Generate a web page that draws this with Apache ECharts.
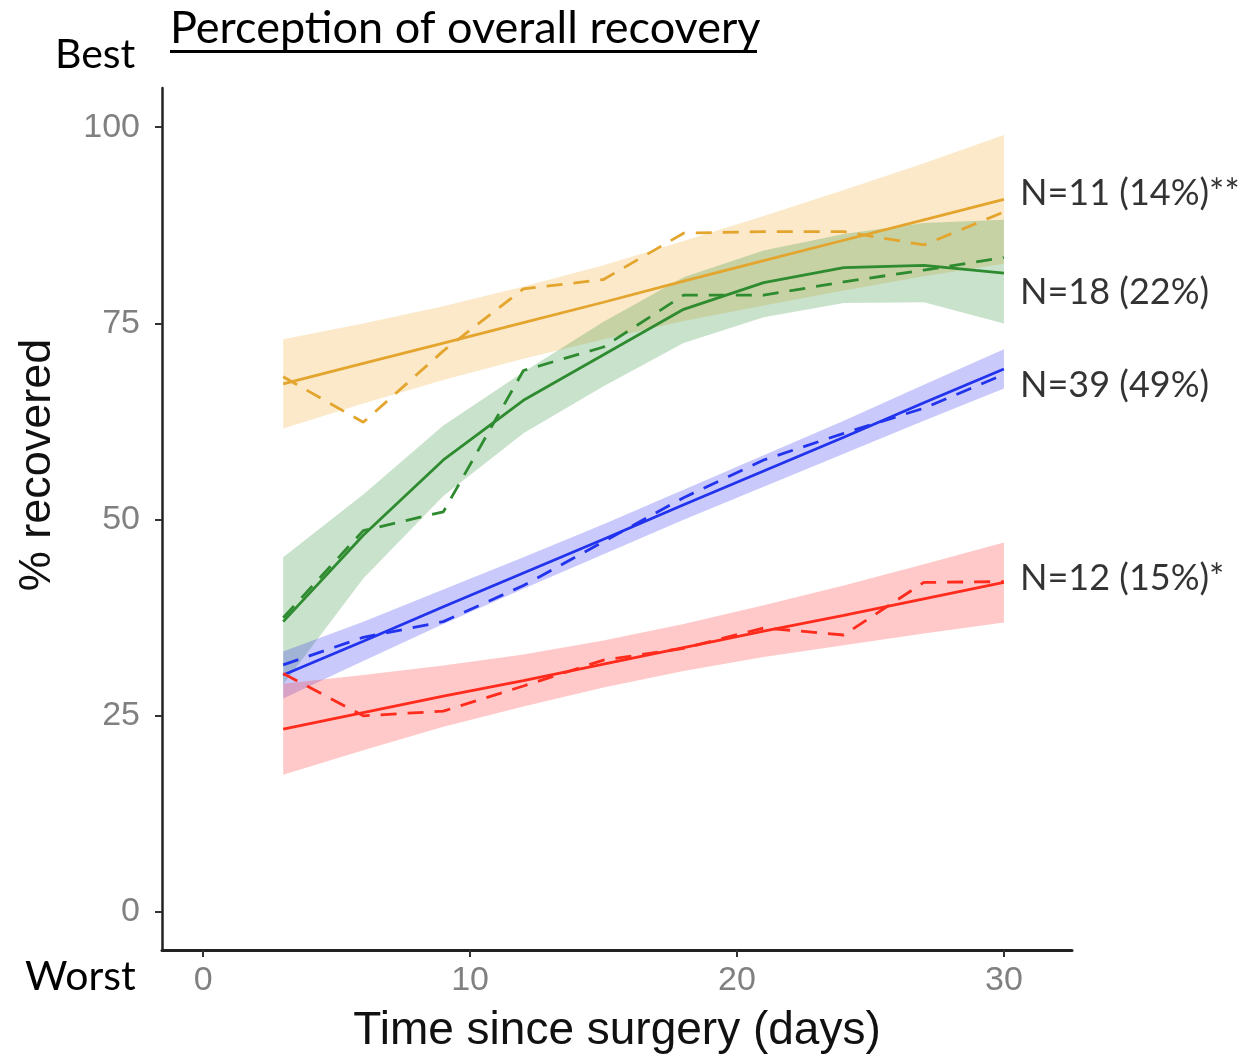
<!DOCTYPE html>
<html><head><meta charset="utf-8">
<script src="https://cdn.jsdelivr.net/npm/echarts@6/dist/echarts.min.js"></script>
<style>html,body{margin:0;padding:0;background:#fff}#c{width:1253px;height:1060px}</style>
</head><body><div id="c"></div>
<script>
// ---- data ----
const days = [3, 6, 9, 12, 15, 18, 21, 24, 27, 30];
const xTicks = [0, 10, 20, 30];
const yTicks = [0, 25, 50, 75, 100];

// N=11 (gold)
const goldFit = [67.3, 69.9, 72.5, 75.1, 77.7, 80.4, 83.0, 85.6, 88.2, 90.8];
const goldLo  = [61.6, 64.8, 67.8, 70.5, 73.0, 75.3, 77.3, 79.2, 81.0, 82.6];
const goldHi  = [73.0, 75.0, 77.2, 79.7, 82.4, 85.5, 88.7, 92.0, 95.4, 99.0];
const goldObs = [68.2, 62.4, 71.5, 79.4, 80.6, 86.5, 86.7, 86.7, 85.0, 89.2];
// N=18 (green)
const greenFit = [37.0, 48.0, 57.6, 65.2, 71.0, 76.8, 80.2, 82.1, 82.4, 81.4];
const greenLo  = [29.0, 42.5, 53.0, 61.0, 67.0, 72.5, 75.8, 77.6, 77.7, 75.0];
const greenHi  = [45.2, 53.2, 62.0, 68.8, 75.2, 80.9, 84.3, 86.4, 87.8, 88.2];
const greenObs = [37.5, 48.6, 51.0, 69.0, 72.0, 78.6, 78.6, 80.3, 81.8, 83.4];
// N=39 (blue)
const blueFit = [30.2, 34.5, 38.9, 43.2, 47.5, 51.9, 56.2, 60.5, 64.9, 69.2];
const blueLo  = [27.2, 32.0, 36.7, 41.2, 45.6, 50.0, 54.2, 58.4, 62.6, 66.7];
const blueHi  = [33.2, 37.0, 41.1, 45.2, 49.4, 53.8, 58.2, 62.6, 67.2, 71.7];
const blueObs = [31.5, 35.0, 37.0, 41.6, 47.2, 52.8, 57.6, 61.0, 64.2, 68.5];
// N=12 (red)
const redFit = [23.3, 25.4, 27.5, 29.5, 31.6, 33.7, 35.8, 37.8, 39.9, 42.0];
const redLo  = [17.5, 20.6, 23.6, 26.2, 28.6, 30.7, 32.5, 34.0, 35.5, 36.9];
const redHi  = [29.1, 30.2, 31.4, 32.8, 34.6, 36.7, 39.1, 41.6, 44.3, 47.1];
const redObs = [30.4, 25.0, 25.6, 28.8, 32.1, 33.6, 36.2, 35.3, 42.0, 42.1];

const groupLabels = ['N=11 (14%)**', 'N=18 (22%)', 'N=39 (49%)', 'N=12 (15%)*'];
const groupLabelY = [91.6, 79.0, 67.1, 42.5];
const groupLabelX = 30;

// ---- build ----
const groups = [
  {id: 'gold',  fit: goldFit,  lo: goldLo,  hi: goldHi,  obs: goldObs,  line: '#E3A52D', band: 'rgba(240,175,60,0.28)'},
  {id: 'green', fit: greenFit, lo: greenLo, hi: greenHi, obs: greenObs, line: '#2E8B30', band: 'rgba(60,150,70,0.28)'},
  {id: 'blue',  fit: blueFit,  lo: blueLo,  hi: blueHi,  obs: blueObs,  line: '#2233EE', band: 'rgba(60,60,240,0.28)'},
  {id: 'red',   fit: redFit,   lo: redLo,   hi: redHi,   obs: redObs,   line: '#FF2B1C', band: 'rgba(255,60,60,0.28)'}
];
const zip = (ys) => days.map((d, i) => [d, ys[i]]);
const series = [];
groups.forEach(g => {
  series.push({
    type: 'custom', name: g.id + '-band', silent: true, z: 1,
    data: days.map((d, i) => [d, g.lo[i], g.hi[i]]),
    encode: {x: 0, y: [1, 2]},
    renderItem: (params, api) => {
      if (params.dataIndex !== 0) return null;
      const upper = days.map((d, i) => api.coord([d, g.hi[i]]));
      const lower = days.map((d, i) => api.coord([d, g.lo[i]])).reverse();
      return {type: 'polygon', shape: {points: upper.concat(lower)}, style: {fill: g.band}};
    }
  });
});
groups.forEach(g => {
  series.push({type: 'line', name: g.id + '-fit', data: zip(g.fit), symbol: 'none',
    lineStyle: {color: g.line, width: 2.8}, z: 3});
  series.push({type: 'line', name: g.id + '-obs', data: zip(g.obs), symbol: 'none',
    lineStyle: {color: g.line, width: 2.8, type: [16, 11]}, z: 3});
});
series.push({
  type: 'scatter', name: 'labels', symbolSize: 0, silent: true, z: 5,
  data: groupLabels.map((t, i) => ({value: [groupLabelX, groupLabelY[i]], name: t})),
  label: {show: true, position: 'right', distance: 16, formatter: p => p.name,
    fontFamily: 'Lato', fontSize: 36, color: '#000'}
});

const chart = echarts.init(document.getElementById('c'), null, {renderer: 'canvas'});
chart.setOption({
  backgroundColor: '#fff',
  animation: false,
  grid: {left: 162, right: 181, top: 88, bottom: 110},
  xAxis: {
    type: 'value', min: -1.54, max: 32.55,
    axisLine: {show: true, onZero: false, lineStyle: {color: '#222', width: 3}},
    axisTick: {show: true, customValues: xTicks, length: 7, lineStyle: {color: '#333', width: 2}},
    axisLabel: {customValues: xTicks, color: '#808080', fontSize: 34, fontFamily: 'Liberation Sans', margin: 14},
    splitLine: {show: false},
    name: 'Time since surgery (days)', nameLocation: 'middle', nameGap: 58,
    nameTextStyle: {fontSize: 46, fontFamily: 'Liberation Sans', color: '#111'}
  },
  yAxis: {
    type: 'value', min: -4.84, max: 105,
    axisLine: {show: true, onZero: false, lineStyle: {color: '#222', width: 2.5}},
    axisTick: {show: true, customValues: yTicks, length: 7, lineStyle: {color: '#333', width: 2}},
    axisLabel: {customValues: yTicks, color: '#808080', fontSize: 34, fontFamily: 'Liberation Sans', margin: 22},
    splitLine: {show: false}
  },
  graphic: [
    {type: 'text', left: 170, top: 6, style: {text: 'Perception of overall recovery', font: '45px Lato', fill: '#000'}},
    {type: 'rect', shape: {x: 170, y: 50, width: 587, height: 3}, style: {fill: '#000'}},
    {type: 'text', left: 55, top: 34, style: {text: 'Best', font: '41px Lato', fill: '#000'}},
    {type: 'text', left: 25, top: 956, style: {text: 'Worst', font: '41px Lato', fill: '#000'}},
    {type: 'text', x: 38, y: 465, rotation: Math.PI / 2,
      style: {text: '% recovered', font: '45px Liberation Sans', fill: '#111', align: 'center', verticalAlign: 'middle'}}
  ],
  series: series
});
</script>
</body></html>
